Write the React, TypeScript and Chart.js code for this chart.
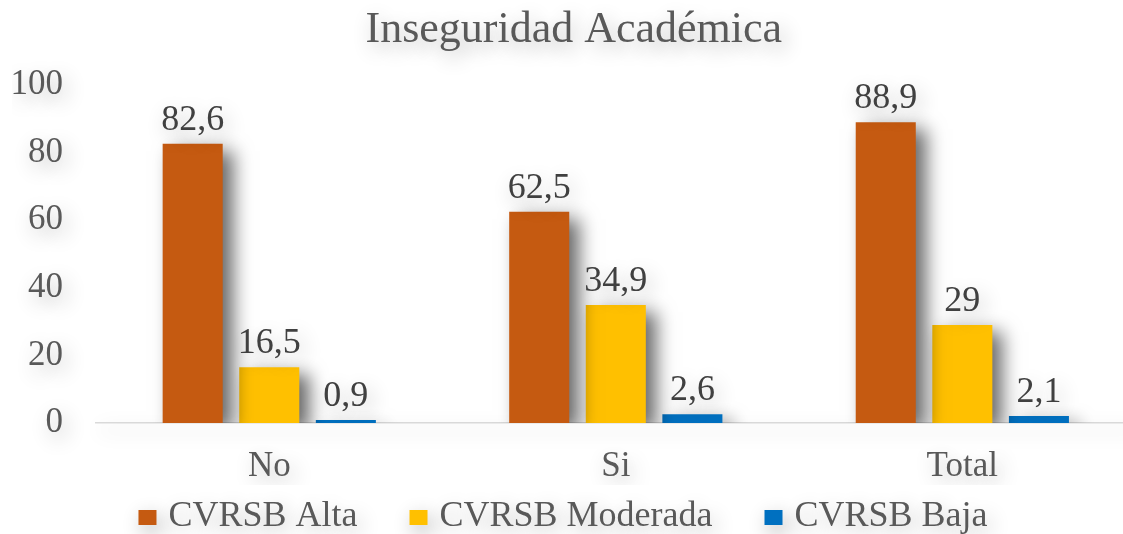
import React, { useEffect, useRef } from "react";
import { Chart, registerables } from "chart.js";

Chart.register(...registerables);

const TITLE = "Inseguridad Académica";
const categories = ["No", "Si", "Total"];
const seriesNames = ["CVRSB Alta", "CVRSB Moderada", "CVRSB Baja"];
const alta = [82.6, 62.5, 88.9];
const moderada = [16.5, 34.9, 29];
const baja = [0.9, 2.6, 2.1];
const yTickValues = [0, 20, 40, 60, 80, 100];
const seriesColors = ["#C55A11", "#FFC000", "#0070C0"];

const FONT = "'Liberation Serif', 'Times New Roman', serif";
const fmt = (v: number) => String(v).replace(".", ",");

const decor = {
  id: "decor",
  beforeDraw(chart: any) {
    const ctx = chart.ctx;
    ctx.save();
    ctx.shadowColor = "rgba(0,0,0,0.30)";
    ctx.shadowBlur = 20;
    ctx.shadowOffsetX = 4;
    ctx.shadowOffsetY = 7;
  },
  beforeDatasetsDraw(chart: any) {
    const ctx = chart.ctx;
    ctx.save();
    ctx.shadowColor = "rgba(0,0,0,0.6)";
    ctx.shadowBlur = 18;
    ctx.shadowOffsetX = 10;
    ctx.shadowOffsetY = 7;
  },
  afterDatasetsDraw(chart: any) {
    const ctx = chart.ctx;
    ctx.restore();
    ctx.save();
    ctx.font = `36px ${FONT}`;
    ctx.fillStyle = "#404040";
    ctx.textAlign = "center";
    ctx.textBaseline = "alphabetic";
    chart.data.datasets.forEach((ds: any, di: number) => {
      const meta = chart.getDatasetMeta(di);
      meta.data.forEach((bar: any, i: number) => {
        ctx.fillText(fmt(ds.data[i]), bar.x, bar.y - 14);
      });
    });
    ctx.restore();
  },
  afterDraw(chart: any) {
    const ctx = chart.ctx;
    ctx.save();
    ctx.font = `36px ${FONT}`;
    ctx.textBaseline = "alphabetic";
    ctx.textAlign = "left";
    const boxW = 18;
    const boxH = 15;
    const gapText = 12;
    const gapItem = 52;
    const widths = seriesNames.map((n) => ctx.measureText(n).width);
    const total =
      widths.reduce((a, b) => a + b, 0) +
      seriesNames.length * (boxW + gapText) +
      (seriesNames.length - 1) * gapItem;
    let x = chart.width / 2 - total / 2;
    const baseline = chart.height - 8;
    seriesNames.forEach((n, i) => {
      ctx.fillStyle = seriesColors[i];
      ctx.fillRect(x, baseline - 16, boxW, boxH);
      x += boxW + gapText;
      ctx.fillStyle = "#595959";
      ctx.fillText(n, x, baseline);
      x += widths[i] + gapItem;
    });
    ctx.restore();
    ctx.restore();
  },
};

export default function App() {
  const ref = useRef<HTMLCanvasElement>(null);
  useEffect(() => {
    document.body.style.overflow = "hidden";
    const chart = new Chart(ref.current!, {
      type: "bar",
      data: {
        labels: categories,
        datasets: [
          { label: seriesNames[0], data: alta, backgroundColor: seriesColors[0] },
          { label: seriesNames[1], data: moderada, backgroundColor: seriesColors[1] },
          { label: seriesNames[2], data: baja, backgroundColor: seriesColors[2] },
        ],
      },
      options: {
        animation: false,
        responsive: true,
        maintainAspectRatio: false,
        layout: { padding: { left: 26, right: 4.4, top: 0, bottom: 49 } },
        datasets: {
          bar: { categoryPercentage: 0.663, barPercentage: 0.784 },
        },
        plugins: {
          legend: { display: false },
          tooltip: { enabled: false },
          title: {
            display: true,
            text: TITLE,
            color: "#595959",
            font: { family: FONT, size: 44, weight: "normal" },
            padding: { top: 4, bottom: 28 },
          },
        },
        scales: {
          x: {
            grid: { display: false, drawTicks: false },
            border: { display: true, color: "#d9d9d9", width: 1.5 },
            ticks: {
              color: "#595959",
              font: { family: FONT, size: 35 },
              padding: 23,
            },
            afterFit: (axis: any) => {
              axis.height = 62;
            },
          },
          y: {
            min: 0,
            max: 100,
            afterBuildTicks: (axis: any) => {
              axis.ticks = yTickValues.map((v) => ({ value: v }));
            },
            grid: { display: false, drawTicks: false },
            border: { display: false },
            ticks: {
              color: "#595959",
              font: { family: FONT, size: 35 },
              padding: 33,
            },
            afterFit: (axis: any) => {
              axis.width = 84;
            },
          },
        },
      },
      plugins: [decor],
    });
    return () => chart.destroy();
  }, []);

  return (
    <div
      style={{
        position: "fixed",
        left: 0,
        top: 0,
        width: 1123,
        height: 534,
        overflow: "hidden",
        background: "#ffffff",
      }}
    >
      <div style={{ position: "absolute", left: -14, top: 0, width: 1154, height: 534 }}>
        <canvas ref={ref} />
      </div>
    </div>
  );
}
